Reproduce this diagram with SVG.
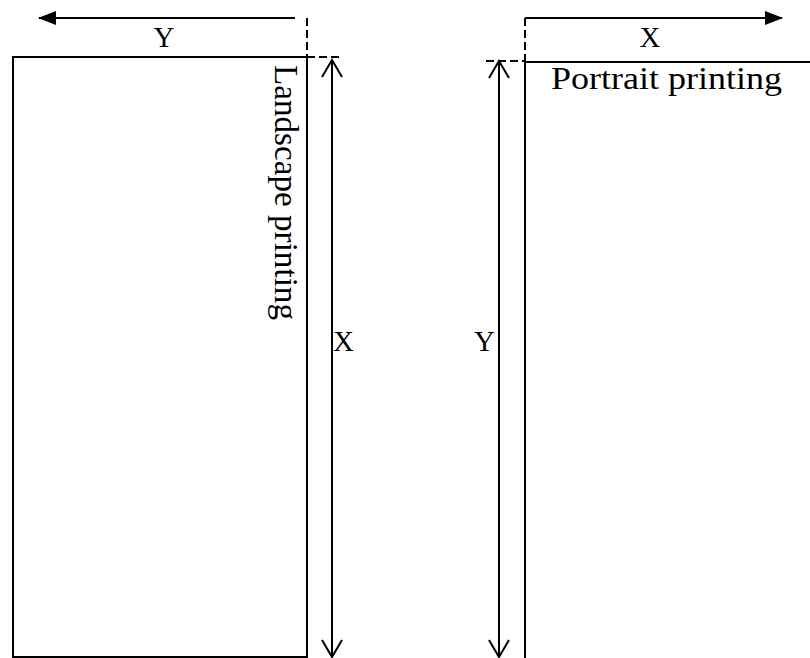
<svg xmlns="http://www.w3.org/2000/svg" width="810" height="658" viewBox="0 0 810 658">
<style>
.ln{stroke:#000;stroke-width:2;fill:none}
.ds{stroke:#000;stroke-width:2;fill:none;stroke-dasharray:8 4}
text{font-family:'Liberation Serif','Times New Roman',Times,serif;fill:#000}
</style>
<defs>
<marker id="fill" viewBox="0 0 18 14" refX="17" refY="7" markerWidth="18" markerHeight="14" markerUnits="userSpaceOnUse" orient="auto">
<path d="M0,0 L18,7 L0,14 Z" fill="#000"/>
</marker>
<marker id="open" viewBox="0 0 20 24" refX="18" refY="12" markerWidth="20" markerHeight="24" markerUnits="userSpaceOnUse" orient="auto">
<path d="M1,2 L18,12 L1,22" fill="none" stroke="#000" stroke-width="2"/>
</marker>
</defs>
<rect width="810" height="658" fill="#fff"/>
<g id="landscape">
<rect x="13" y="57" width="294" height="600" class="ln"/>
<text font-family="Liberation Serif, serif" font-size="33" transform="translate(275,65) rotate(90)" textLength="255" lengthAdjust="spacingAndGlyphs">Landscape printing</text>
</g>
<g id="portrait">
<path d="M525,658 L525,62 L810,62" class="ln"/>
<text font-family="Liberation Serif, serif" x="551" y="89" font-size="31" textLength="231" lengthAdjust="spacingAndGlyphs">Portrait printing</text>
</g>
<g id="connectors">
<line x1="295" y1="18" x2="39" y2="18" class="ln" marker-end="url(#fill)"/>
<line x1="307" y1="18" x2="307" y2="57" class="ds"/>
<line x1="307" y1="57" x2="342" y2="57" class="ds"/>
<line x1="332" y1="358" x2="332" y2="60" class="ln" marker-end="url(#open)"/>
<line x1="332" y1="358" x2="332" y2="657" class="ln" marker-end="url(#open)"/>
<line x1="525" y1="18" x2="782" y2="18" class="ln" marker-end="url(#fill)"/>
<line x1="525" y1="18" x2="525" y2="62" class="ds"/>
<line x1="486" y1="61" x2="525" y2="61" class="ds"/>
<line x1="499" y1="358" x2="499" y2="61" class="ln" marker-end="url(#open)"/>
<line x1="499" y1="358" x2="499" y2="657" class="ln" marker-end="url(#open)"/>
</g>
<g id="labels">
<text x="164" y="47" font-size="29" text-anchor="middle">Y</text>
<text x="650" y="47" font-size="29" text-anchor="middle">X</text>
<text x="333" y="351" font-size="29">X</text>
<text x="474" y="351" font-size="29">Y</text>
</g>
</svg>
